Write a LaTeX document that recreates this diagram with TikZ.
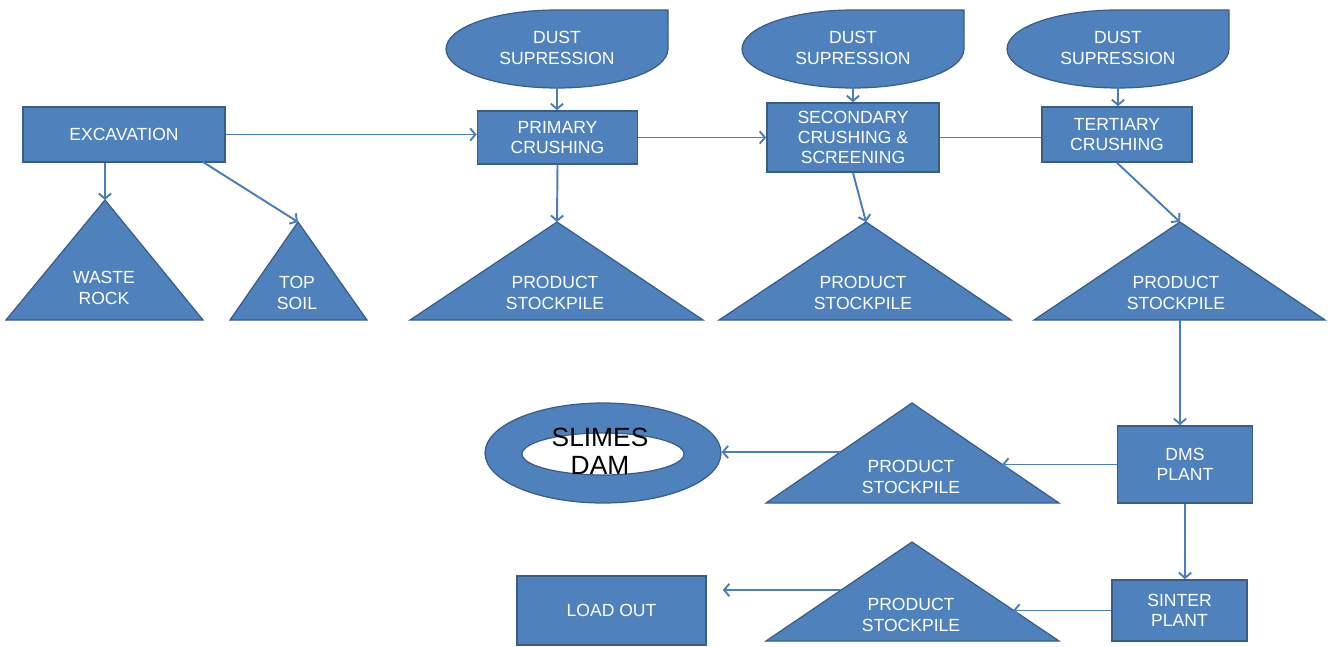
\documentclass[tikz,border=0pt]{standalone}
\usepackage{fontspec}
\setmainfont{Liberation Sans}
\usetikzlibrary{arrows.meta,shapes.geometric}
\definecolor{shapeblue}{HTML}{4F81BD}
\definecolor{edgeblue}{HTML}{385D8A}
\definecolor{lineblue}{HTML}{4A7EBB}
\tikzset{
  box/.style={draw=edgeblue, line width=0.9pt, fill=shapeblue, text=white, align=center, font=\fontsize{10}{11.5}\selectfont},
  lbl/.style={text=white, align=center, inner sep=0pt, font=\fontsize{10}{11.5}\selectfont},
  pile/.style={draw=edgeblue, line width=0.7pt, fill=shapeblue},
  flow/.style={draw=lineblue, line width=1.1pt, -{Straight Barb[length=3pt,width=7pt]}},
}
\begin{document}
\begin{tikzpicture}[x=0.02cm, y=-0.02cm]
    \useasboundingbox (0,0) rectangle (1328,646);
    % process boxes
    \node[box, minimum width=4.04cm, minimum height=1.10cm] (excav)  at ( 124.0, 134.5) {EXCAVATION};
    \node[box, minimum width=3.20cm, minimum height=1.06cm] (prim)   at ( 557.5, 137.5) {PRIMARY\\CRUSHING};
    \node[box, minimum width=3.44cm, minimum height=1.38cm] (sec)    at ( 853.0, 137.5) {SECONDARY\\CRUSHING \&\\SCREENING};
    \node[box, minimum width=3.00cm, minimum height=1.10cm] (tert)   at (1117.0, 134.5) {TERTIARY\\CRUSHING};
    \node[box, minimum width=2.70cm, minimum height=1.54cm] (dms)    at (1185.0, 464.5) {DMS\\PLANT};
    \node[box, minimum width=2.70cm, minimum height=1.22cm] (sinter) at (1179.5, 610.5) {SINTER\\PLANT};
    \node[box, minimum width=3.78cm, minimum height=1.38cm] (load)   at ( 611.5, 610.5) {LOAD OUT};
    % dust supression
    \path[pile] ( 557,10) arc[start angle=90, end angle=360, x radius=2.22cm, y radius=0.78cm] -- ( 668,10) -- cycle;
    \path[pile] ( 853,10) arc[start angle=90, end angle=360, x radius=2.22cm, y radius=0.78cm] -- ( 964,10) -- cycle;
    \path[pile] (1118,10) arc[start angle=90, end angle=360, x radius=2.22cm, y radius=0.78cm] -- (1229,10) -- cycle;
    \node[lbl, minimum width=4.44cm, minimum height=1.56cm] (dust1) at ( 557, 48) {DUST\\SUPRESSION};
    \node[lbl, minimum width=4.44cm, minimum height=1.56cm] (dust2) at ( 853, 48) {DUST\\SUPRESSION};
    \node[lbl, minimum width=4.44cm, minimum height=1.56cm] (dust3) at (1118, 48) {DUST\\SUPRESSION};
    % stockpiles
    \path[pile] (   6,320) -- ( 105,200) -- ( 203,320) -- cycle;
    \path[pile] ( 230,320) -- ( 298,222) -- ( 367,320) -- cycle;
    \path[pile] ( 410,320) -- ( 557,222) -- ( 703,320) -- cycle;
    \path[pile] ( 719,320) -- ( 866,222) -- (1011,320) -- cycle;
    \path[pile] (1034,320) -- (1180,222) -- (1325,320) -- cycle;
    \path[pile] ( 766,503) -- ( 912,403) -- (1059,503) -- cycle;
    \path[pile] ( 766,641) -- ( 912,542) -- (1059,641) -- cycle;
    \coordinate (wastetop) at ( 105,200);
    \coordinate (soiltop)  at ( 298,222);
    \coordinate (ps1top)   at ( 557,222);
    \coordinate (ps2top)   at ( 866,222);
    \coordinate (ps3top)   at (1180,222);
    \coordinate (ps3base)  at (1180,320);
    \coordinate (ps4l)     at ( 840,452);
    \coordinate (ps4r)     at (1002,464.5);
    \coordinate (ps5l)     at ( 841,590);
    \coordinate (ps5r)     at (1013,610.5);
    \coordinate (excavout) at ( 203,162);
    \node[lbl] (waste) at ( 104,288) {WASTE\\ROCK};
    \node[lbl] (soil)  at ( 297,293) {TOP\\SOIL};
    \node[lbl] (ps1)   at ( 555,293) {PRODUCT\\STOCKPILE};
    \node[lbl] (ps2)   at ( 863,293) {PRODUCT\\STOCKPILE};
    \node[lbl] (ps3)   at (1176,293) {PRODUCT\\STOCKPILE};
    \node[lbl] (ps4)   at ( 911,477) {PRODUCT\\STOCKPILE};
    \node[lbl] (ps5)   at ( 911,615) {PRODUCT\\STOCKPILE};
    % slimes dam
    \node[pile, ellipse, minimum width=4.72cm, minimum height=2.00cm] (dam)  at (603,453) {};
    \node[ellipse, draw=edgeblue, line width=0.7pt, fill=white, minimum width=3.24cm, minimum height=0.84cm] (hole) at (603,454) {};
    \node[align=center, inner sep=0pt, font=\fontsize{15}{16}\selectfont] (slimes) at (600,451) {SLIMES\\DAM};
    % connectors
    \draw[flow]     (excav.east)     to (excav.east -| prim.west);
    \draw[flow]     (excav.south -| wastetop) to (wastetop);
    \draw[flow]     (excavout)       to (soiltop);
    \draw[flow]     (dust1.south)    to (dust1.south |- prim.north);
    \draw[flow]     (prim.east)      to (sec.west);
    \draw[flow]     (prim.south)     to (ps1top);
    \draw[flow]     (dust2.south)    to (sec.north);
    \draw[lineblue, line width=1.1pt] (sec.east) to (sec.east -| tert.west);
    \draw[flow]     (sec.south)      to (ps2top);
    \draw[flow]     (dust3.south)    to (dust3.south |- tert.north);
    \draw[flow]     (tert.south)     to (ps3top);
    \draw[flow]     (ps3base)        to (ps3base |- dms.north);
    \draw[flow]     (dms.west)       to (ps4r);
    \draw[flow]     (ps4l)           to (ps4l -| dam.east);
    \draw[flow]     (dms.south)      to (dms.south |- sinter.north);
    \draw[flow]     (sinter.west)    to (ps5r);
    \draw[flow, shorten >=0.32cm] (ps5l) to (ps5l -| load.east);
  \end{tikzpicture}
\end{document}
